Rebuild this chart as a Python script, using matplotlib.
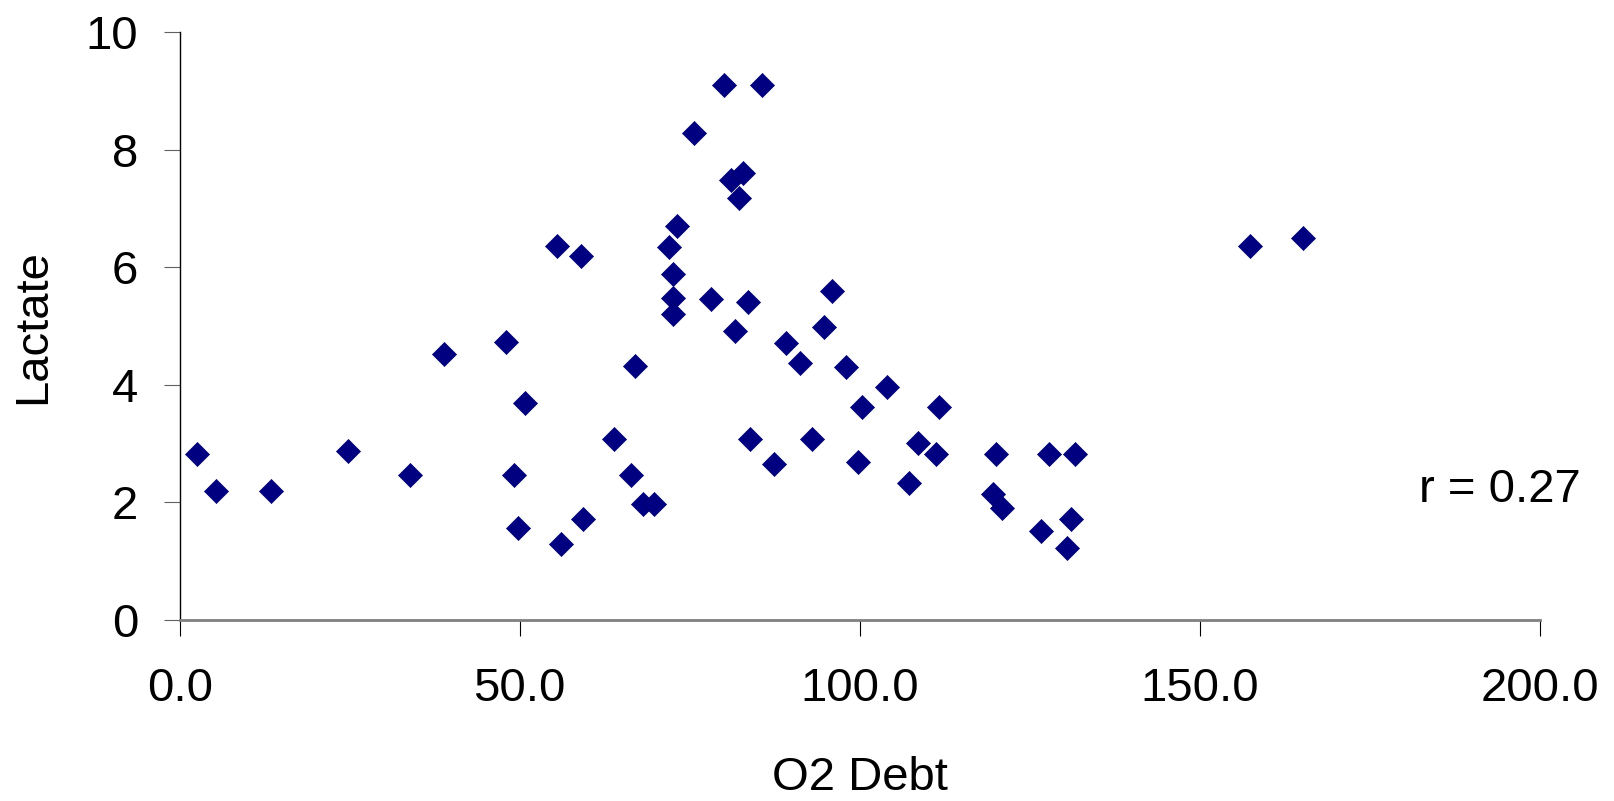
import matplotlib
matplotlib.use("Agg")
import matplotlib.pyplot as plt

# O2 debt vs. lactate measurements
o2_debt = [2.6, 5.3, 13.4, 24.7, 33.8, 38.8, 48.0, 49.2, 50.8, 49.8,
           55.5, 56.0, 59.0, 59.3, 63.9, 66.3, 66.9, 68.1, 69.8, 71.9,
           73.1, 72.5, 72.5, 72.5, 75.6, 78.1, 80.0, 85.7, 81.0, 82.9,
           82.2, 81.6, 83.5, 83.9, 87.4, 89.1, 91.2, 93.0, 94.7, 95.9,
           98.0, 100.3, 99.8, 104.0, 107.3, 108.5, 111.2, 111.7, 120.0, 119.6,
           120.9, 126.7, 127.8, 131.7, 131.1, 130.5, 157.4, 165.2]
lactate = [2.82, 2.19, 2.19, 2.87, 2.47, 4.52, 4.73, 2.47, 3.70, 1.56,
           6.36, 1.30, 6.20, 1.72, 3.08, 2.47, 4.33, 1.98, 1.98, 6.34,
           6.71, 5.88, 5.48, 5.20, 8.28, 5.46, 9.11, 9.11, 7.48, 7.60,
           7.18, 4.92, 5.41, 3.08, 2.66, 4.71, 4.38, 3.08, 4.99, 5.60,
           4.31, 3.63, 2.68, 3.96, 2.33, 3.01, 2.82, 3.63, 2.82, 2.14,
           1.91, 1.51, 2.82, 2.82, 1.72, 1.23, 6.36, 6.50]

x_ticks = [0, 50, 100, 150, 200]
x_tick_labels = ["0.0", "50.0", "100.0", "150.0", "200.0"]
y_ticks = [0, 2, 4, 6, 8, 10]
r_label = "r = 0.27"

plt.rcParams["font.family"] = ["Liberation Sans", "DejaVu Sans"]
FS = 34

fig = plt.figure(figsize=(16.15, 8.01), dpi=100)
ax = fig.add_axes([0.11127, 0.22597, 0.84211, 0.73371])

ax.scatter(o2_debt, lactate, marker="D", s=150, color="#000080",
           edgecolors="#00006a", linewidths=0.5, zorder=3, clip_on=False)

ax.set_xlim(0, 200)
ax.set_ylim(0, 10)
ax.set_xticks(x_ticks)
ax.set_xticklabels(x_tick_labels)
ax.set_yticks(y_ticks)

for side in ("top", "right"):
    ax.spines[side].set_visible(False)
ax.spines["left"].set_color("black")
ax.spines["left"].set_linewidth(1.0)
ax.spines["bottom"].set_color("#808080")
ax.spines["bottom"].set_linewidth(2.0)

ax.tick_params(axis="x", direction="out", length=11.5, width=0.8,
               color="black", labelsize=FS, pad=22.5)
ax.tick_params(axis="y", direction="out", length=11.5, width=0.8,
               color="#606060", labelsize=FS, pad=18.5)

ax.set_xlabel("O2 Debt", fontsize=FS, labelpad=32)
ax.set_ylabel("Lactate", fontsize=FS, labelpad=22)

ax.text(182.2, 2.0, r_label, fontsize=FS, ha="left", va="baseline")

fig.savefig("out.png", dpi=100)
